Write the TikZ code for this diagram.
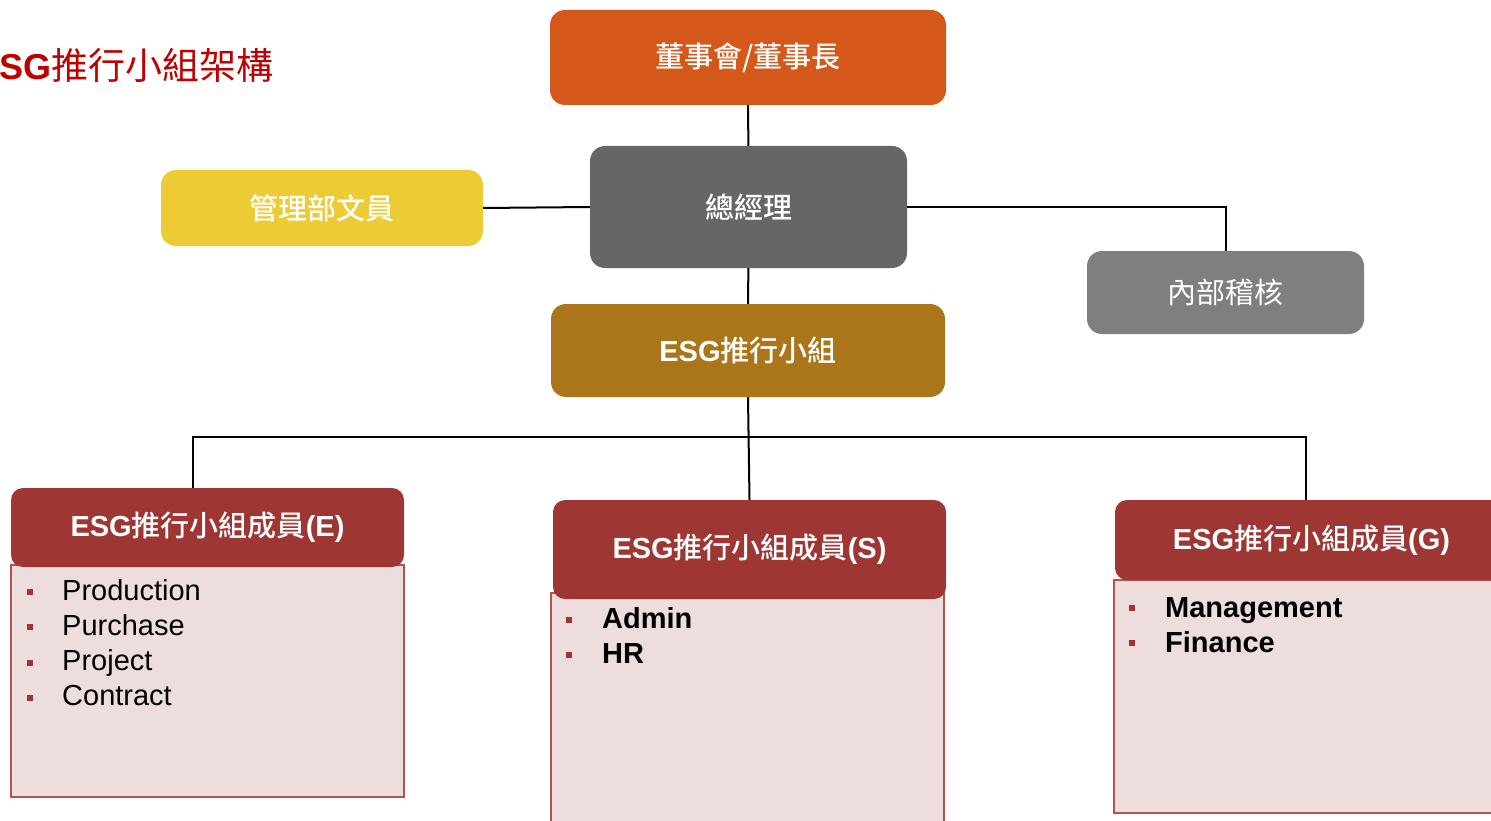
\documentclass[tikz,border=0pt]{standalone}
\usepackage{fontspec}
\setmainfont{Liberation Sans}
\newfontfamily\cjk{Noto Sans CJK TC}[BoldFont={Noto Sans CJK TC Medium}]
\newcommand{\zh}[1]{{\cjk #1}}
\definecolor{boardorange}{HTML}{D4581A}
\definecolor{gmgray}{HTML}{666666}
\definecolor{auditgray}{HTML}{7F7F7F}
\definecolor{adminyellow}{HTML}{EDCB35}
\definecolor{esggold}{HTML}{AB7519}
\definecolor{headred}{HTML}{9E3733}
\definecolor{bodyfill}{HTML}{EEDDDD}
\definecolor{bodyline}{HTML}{B5524D}
\definecolor{bulletred}{HTML}{A33333}
\definecolor{titlered}{HTML}{C00000}
\begin{document}
\begin{tikzpicture}[x=1pt,y=-1pt,
  orgbox/.style={rounded corners=15pt, text=white, inner sep=0pt,
    font=\fontsize{29}{35}\selectfont\bfseries},
  head/.style={orgbox, rounded corners=12pt, fill=headred},
  body/.style={draw=bodyline, fill=bodyfill, line width=1.5pt, inner sep=0pt},
  conn/.style={line width=2pt},
  bullet/.style={fill=bulletred, minimum size=6pt, inner sep=0pt},
  item/.style={anchor=base west, inner sep=0pt, font=\fontsize{29}{35}\selectfont}]

\useasboundingbox (0,0) rectangle (1491,821);

% title, cut at the left edge
\node[anchor=base west, inner sep=0pt, text=titlered, font=\fontsize{36}{40}\selectfont]
  (title) at (-25,80) {\textbf{ESG}\zh{\fontsize{37}{40}\selectfont 推行小組架構}};

% upper chart
\node[orgbox, fill=boardorange, minimum width=396pt, minimum height=95pt]
  (board) at (748,57.5) {\zh{董事會/董事長}};
\node[orgbox, fill=gmgray, minimum width=317pt, minimum height=122pt]
  (gm) at (748.5,207) {\zh{總經理}};
\node[orgbox, fill=adminyellow, minimum width=322pt, minimum height=76pt]
  (admin) at (322,208) {\zh{管理部文員}};
\node[orgbox, fill=auditgray, minimum width=277pt, minimum height=83pt, font=\fontsize{29}{35}\selectfont]
  (audit) at (1225.5,292.5) {\zh{內部稽核}};
\node[orgbox, fill=esggold, minimum width=394pt, minimum height=93pt]
  (esg) at (748,350.5) {ESG\zh{推行小組}};

% member groups
\node[body, minimum width=393pt, minimum height=232pt] (ebody) at (207.5,681) {};
\node[body, minimum width=393pt, minimum height=248pt] (sbody) at (747.5,717) {};
\node[body, minimum width=394pt, minimum height=233pt] (gbody) at (1311,696.5) {};
\node[head, minimum width=393pt, minimum height=79pt] (ehead) at (207.5,527.5) {ESG\zh{推行小組成員}(E)};
\node[head, minimum width=393pt, minimum height=99pt] (shead) at (749.5,549.5) {ESG\zh{推行小組成員}(S)};
\node[head, minimum width=393pt, minimum height=80pt] (ghead) at (1311.5,540) {ESG\zh{推行小組成員}(G)};

\foreach \txt [count=\i from 0] in {Production,Purchase,Project,Contract} {
  \node[bullet] (eb\i) at (30,592+35.3*\i) {};
  \node[item] (ei\i) at (62,600+35.3*\i) {\txt};
}
\foreach \txt [count=\i from 0] in {Admin,HR} {
  \node[bullet] (sb\i) at (569,620+35*\i) {};
  \node[item, font=\fontsize{29}{35}\selectfont\bfseries] (si\i) at (602,628+35*\i) {\txt};
}
\foreach \txt [count=\i from 0] in {Management,Finance} {
  \node[bullet] (gb\i) at (1132,608+35*\i) {};
  \node[item, font=\fontsize{29}{35}\selectfont\bfseries] (gi\i) at (1165,617+35*\i) {\txt};
}

% connectors
\coordinate (busE) at (193,437);
\coordinate (busG) at (1306,437);
\draw[conn] (board) -- (gm);
\draw[conn] (gm.west) -- (admin.east);
\draw[conn] (gm.east) -| (audit.north);
\draw[conn] (gm) -- (esg);
\draw[conn] (esg.south) -- (shead.north);
\draw[conn] (busE |- ehead.north) -- (busE) -- (busG) -- (busG |- ghead.north);

\end{tikzpicture}
\end{document}
